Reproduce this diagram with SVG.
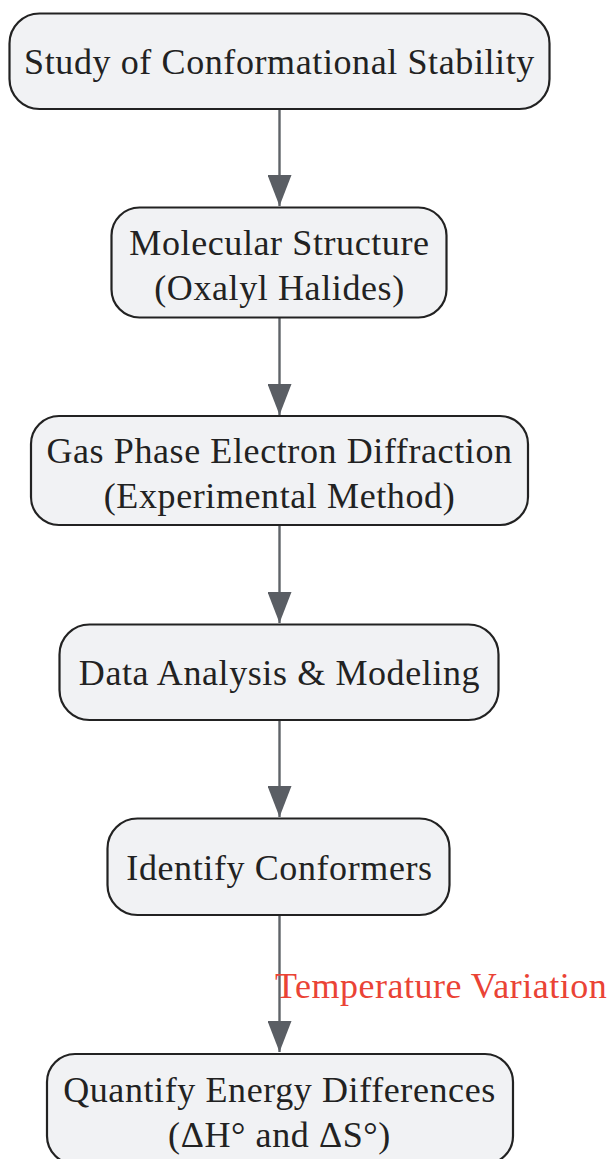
<svg xmlns="http://www.w3.org/2000/svg" width="611" height="1159" viewBox="0 0 611 1159">
<style>
.node rect{fill:#f1f2f4;stroke:#222;stroke-width:2.2}
.node text{font-family:"Liberation Serif","Times New Roman",serif;font-size:36px;letter-spacing:0.6px;fill:#222;text-anchor:middle}
.edge{stroke:#5f6368;stroke-width:2.4;fill:none}
.elabel{font-family:"Liberation Serif","Times New Roman",serif;font-size:36px;letter-spacing:0.5px;fill:#ea4335}
</style>
<defs>
<marker id="arrow" markerUnits="userSpaceOnUse" viewBox="0 0 31 24" markerWidth="31" markerHeight="24" refX="31" refY="12" orient="auto">
<path d="M0,0 L31,12 L0,24 z" fill="#5a5e64"/>
</marker>
</defs>
<rect width="611" height="1159" fill="#ffffff"/>
<g id="connectors">
<line class="edge" x1="279.5" y1="109" x2="279.5" y2="206" marker-end="url(#arrow)"/>
<line class="edge" x1="279.5" y1="318" x2="279.5" y2="415" marker-end="url(#arrow)"/>
<line class="edge" x1="279.5" y1="525" x2="279.5" y2="623" marker-end="url(#arrow)"/>
<line class="edge" x1="279.5" y1="720" x2="279.5" y2="817" marker-end="url(#arrow)"/>
<line class="edge" x1="279.5" y1="915" x2="279.5" y2="1052" marker-end="url(#arrow)"/>
<text class="elabel" x="275" y="998">Temperature Variation</text>
</g>
<g id="node1" class="node">
<rect x="9.5" y="13.5" width="540" height="95.5" rx="30" ry="30"/>
<text x="279.5" y="74">Study of Conformational Stability</text>
</g>
<g id="node2" class="node">
<rect x="111.5" y="207.5" width="335" height="110" rx="28" ry="28"/>
<text x="279.5" y="255">Molecular Structure</text>
<text x="279.5" y="300">(Oxalyl Halides)</text>
</g>
<g id="node3" class="node">
<rect x="31" y="416" width="497" height="109" rx="28" ry="28"/>
<text x="279.5" y="463">Gas Phase Electron Diffraction</text>
<text x="279.5" y="508">(Experimental Method)</text>
</g>
<g id="node4" class="node">
<rect x="59.5" y="624.5" width="439" height="95.5" rx="30" ry="30"/>
<text x="279.5" y="685">Data Analysis &amp; Modeling</text>
</g>
<g id="node5" class="node">
<rect x="107.5" y="818.5" width="342" height="96.5" rx="30" ry="30"/>
<text x="279.5" y="880">Identify Conformers</text>
</g>
<g id="node6" class="node">
<rect x="47" y="1054" width="466" height="110" rx="28" ry="28"/>
<text x="279.5" y="1101.5">Quantify Energy Differences</text>
<text x="279.5" y="1146.5">(ΔH° and ΔS°)</text>
</g>
</svg>
